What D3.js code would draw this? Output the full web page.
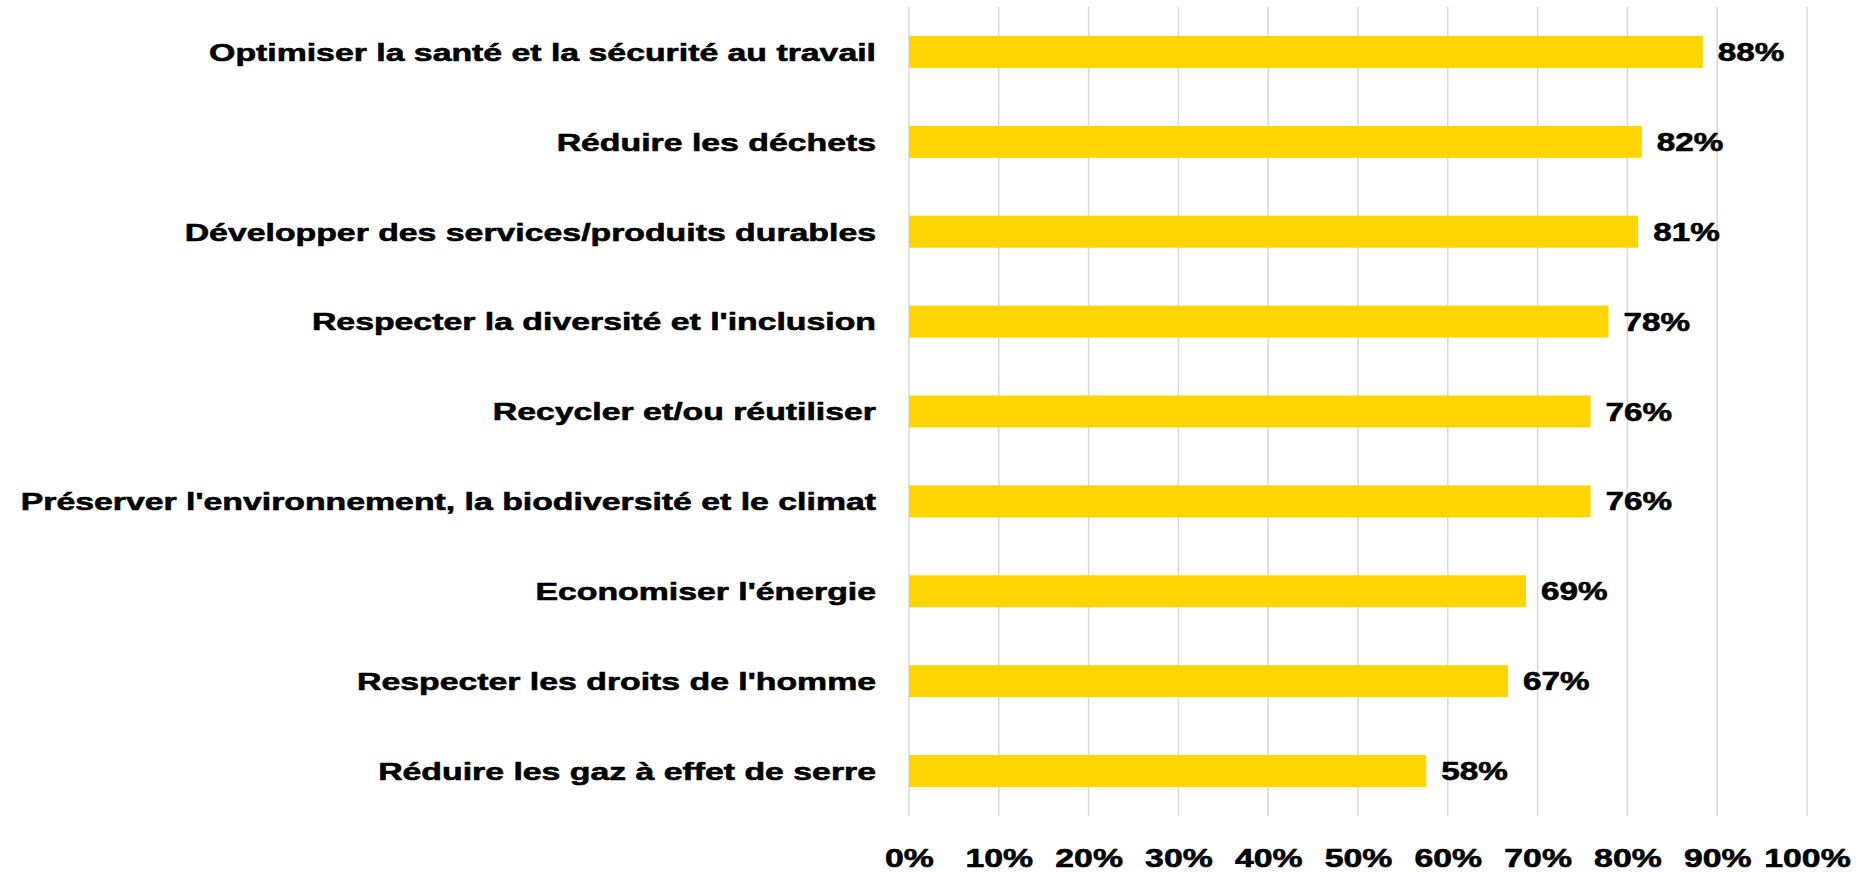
<!DOCTYPE html>
<html><head><meta charset="utf-8">
<script src="https://cdn.jsdelivr.net/npm/d3@7"></script>
<style>html,body{margin:0;padding:0;background:#fff;}</style>
</head><body>
<svg id="chart" width="1856" height="873"></svg>
<script>
const categories = [
  "Optimiser la santé et la sécurité au travail",
  "Réduire les déchets",
  "Développer des services/produits durables",
  "Respecter la diversité et l'inclusion",
  "Recycler et/ou réutiliser",
  "Préserver l'environnement, la biodiversité et le climat",
  "Economiser l'énergie",
  "Respecter les droits de l'homme",
  "Réduire les gaz à effet de serre"
];
const values = [88.4, 81.6, 81.2, 77.9, 75.9, 75.9, 68.7, 66.7, 57.6];
const valueLabels = ["88%", "82%", "81%", "78%", "76%", "76%", "69%", "67%", "58%"];
const tickValues = [0, 10, 20, 30, 40, 50, 60, 70, 80, 90, 100];
const tickLabels = ["0%", "10%", "20%", "30%", "40%", "50%", "60%", "70%", "80%", "90%", "100%"];

const svg = d3.select("#chart");
const font = "'Liberation Sans', Arial, sans-serif";
const x = d3.scaleLinear().domain([0, 100]).range([909, 1807]);
const y = d3.scaleBand().domain(categories).range([7, 816]).paddingInner(0.644).paddingOuter(0.322);

// gridlines
svg.append("g").selectAll("line").data(tickValues).join("line")
  .attr("x1", d => x(d)).attr("x2", d => x(d))
  .attr("y1", 7).attr("y2", 816)
  .attr("stroke", "#d9d9d9").attr("stroke-width", 1.5);

// bars
svg.append("g").selectAll("rect").data(values).join("rect")
  .attr("x", x(0))
  .attr("y", (d, i) => y(categories[i]))
  .attr("width", d => x(d) - x(0))
  .attr("height", y.bandwidth())
  .attr("fill", "#FFD500");

function heavy(sel) {
  sel.attr("font-family", font).attr("font-weight", "bold")
    .attr("fill", "#000").attr("stroke", "#000").attr("stroke-width", 0.6)
    .attr("stroke-linejoin", "round");
}

// value labels
svg.append("g").selectAll("text").data(values).join("text")
  .attr("transform", (d, i) => `translate(${x(d) + 15},${y(categories[i]) + y.bandwidth() / 2}) scale(1.33,1)`)
  .attr("dy", "0.36em")
  .attr("font-size", 25)
  .call(heavy)
  .text((d, i) => valueLabels[i]);

// category labels
svg.append("g").selectAll("text").data(categories).join("text")
  .attr("transform", d => `translate(876,${y(d) + y.bandwidth() / 2}) scale(1.38,1)`)
  .attr("dy", "0.36em")
  .attr("text-anchor", "end")
  .attr("font-size", 24.5)
  .call(heavy)
  .text(d => d);

// x axis tick labels
const xAxis = d3.axisBottom(x).tickValues(tickValues).tickFormat((d, i) => tickLabels[i]).tickSize(0).tickPadding(0);
const ax = svg.append("g").attr("transform", "translate(0,848)").call(xAxis);
ax.select(".domain").remove();
ax.selectAll("text").attr("font-size", 26).attr("dy", "0.72em")
  .attr("transform", "scale(1.3,1)").call(heavy);
</script>
</body></html>
